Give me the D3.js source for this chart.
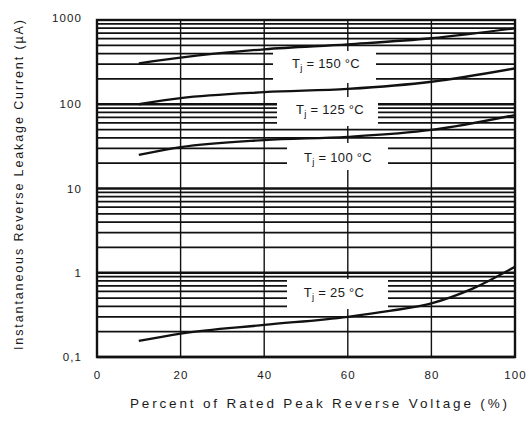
<!DOCTYPE html>
<html>
<head>
<meta charset="utf-8">
<script src="https://cdn.jsdelivr.net/npm/d3@7"></script>
<style>
  body { margin: 0; background: #fff; }
  text { font-family: "Liberation Sans", Arial, sans-serif; fill: #1a1a1a; }
</style>
</head>
<body>
<div id="chart"></div>
<script>
// values (x = % of rated voltage, y = uA)
var percent = [10, 20, 40, 60, 80, 100];
var leak150 = [306, 357, 449, 515, 607, 797];
var leak125 = [100, 118, 139, 152, 185, 267];
var leak100 = [25, 31, 37.6, 41, 49.5, 74.5];
var percent25 = [10, 20, 40, 60, 70, 80, 90, 100];
var leak25 = [0.155, 0.19, 0.24, 0.30, 0.352, 0.434, 0.653, 1.18];

var xTicks = [0, 20, 40, 60, 80, 100];
var yTicks = [0.1, 1, 10, 100, 1000];
var yTickLabels = ['0,1', '1', '10', '100', '1000'];
var curveNames = ['150', '125', '100', '25'];

(function(chart){

  chart.margin = {top: 20, right: 15, bottom: 64, left: 97};
  chart.width = 530;
  chart.height = 421;

  // build the svg and the plot group
  chart.init = function(){
    var m = chart.margin;
    chart.w = chart.width - m.left - m.right;
    chart.h = chart.height - m.top - m.bottom;
    chart.svg = d3.select('#chart').append('svg')
      .attr('width', chart.width)
      .attr('height', chart.height);
    chart.g = chart.svg.append('g')
      .attr('transform', 'translate(' + m.left + ',' + m.top + ')');
    chart.x = d3.scaleLinear().domain([0, 100]).range([0, chart.w]);
    chart.y = d3.scaleLog().domain([0.1, 1000]).range([chart.h, 0]);
  };

  // grid : every minor value of each decade + verticals every 20%
  chart.drawGrid = function(){
    var minors = [];
    yTicks.slice(0, -1).forEach(function(d){
      for (var k = 1; k < 10; k++) minors.push(d * k);
    });
    chart.g.append('g').selectAll('line').data(minors).enter().append('line')
      .attr('x1', 0).attr('x2', chart.w)
      .attr('y1', function(d){ return chart.y(d); })
      .attr('y2', function(d){ return chart.y(d); })
      .attr('stroke', '#111')
      .attr('stroke-width', function(d){ return yTicks.indexOf(d) > -1 ? 2.4 : 1.7; });

    chart.g.append('g').selectAll('line').data(xTicks.slice(1, -1)).enter().append('line')
      .attr('x1', function(d){ return chart.x(d); })
      .attr('x2', function(d){ return chart.x(d); })
      .attr('y1', 0).attr('y2', chart.h)
      .attr('stroke', '#111').attr('stroke-width', 1.4);
  };

  // white boxes behind the curve labels
  chart.drawLabels = function(){
    var boxes = [
      {name: curveNames[0], x: 273, y: 51, w: 103, h: 32, tx: 326, ty: 68},
      {name: curveNames[1], x: 277, y: 97, w: 101, h: 29, tx: 330, ty: 114},
      {name: curveNames[2], x: 287, y: 143, w: 101, h: 27, tx: 338, ty: 162},
      {name: curveNames[3], x: 287, y: 279, w: 101, h: 30, tx: 334, ty: 297}
    ];
    var lab = chart.svg.append('g').selectAll('g').data(boxes).enter().append('g');
    lab.append('rect')
      .attr('x', function(d){ return d.x; }).attr('y', function(d){ return d.y; })
      .attr('width', function(d){ return d.w; }).attr('height', function(d){ return d.h; })
      .attr('fill', '#fff');
    var t = lab.append('text')
      .attr('x', function(d){ return d.tx; }).attr('y', function(d){ return d.ty; })
      .attr('text-anchor', 'middle')
      .attr('font-size', 13)
      .attr('letter-spacing', 0.3);
    t.append('tspan').text('T');
    t.append('tspan').attr('font-size', 9.5).attr('dy', 3).text('j');
    t.append('tspan').attr('dy', -3).text(function(d){ return ' = ' + d.name + ' °C'; });
  };

  chart.drawCurves = function(){
    var series = [
      {xs: percent, ys: leak150},
      {xs: percent, ys: leak125},
      {xs: percent, ys: leak100},
      {xs: percent25, ys: leak25}
    ];
    var line = d3.line()
      .x(function(d){ return chart.x(d[0]); })
      .y(function(d){ return chart.y(d[1]); })
      .curve(d3.curveMonotoneX);
    chart.g.append('g').selectAll('path').data(series).enter().append('path')
      .attr('d', function(s){ return line(d3.zip(s.xs, s.ys)); })
      .attr('fill', 'none')
      .attr('stroke', '#111')
      .attr('stroke-width', 2.3);
  };

  chart.drawFrame = function(){
    chart.g.append('rect')
      .attr('width', chart.w).attr('height', chart.h)
      .attr('fill', 'none').attr('stroke', '#111').attr('stroke-width', 2.4);
  };

  chart.drawAxes = function(){
    var xAxis = d3.axisBottom(chart.x).tickValues(xTicks).tickSize(0).tickPadding(14);
    var gx = chart.g.append('g').attr('transform', 'translate(0,' + chart.h + ')').call(xAxis);
    var yAxis = d3.axisLeft(chart.y).tickValues(yTicks).tickSize(0).tickPadding(15)
      .tickFormat(function(d, i){ return yTickLabels[i]; });
    var gy = chart.g.append('g').call(yAxis);
    [gx, gy].forEach(function(a){
      a.select('.domain').remove();
      a.selectAll('text').attr('font-size', 11.5).attr('letter-spacing', 1.1)
        .attr('font-family', '"Liberation Sans", Arial, sans-serif').attr('fill', '#222');
    });
    gy.select('.tick:last-of-type text').attr('dy', '0.1em');

    chart.svg.append('text')
      .attr('x', 130).attr('y', 408)
      .attr('textLength', 377).attr('lengthAdjust', 'spacing')
      .attr('font-size', 13.5)
      .text('Percent of Rated Peak Reverse Voltage (%)');

    chart.svg.append('text')
      .attr('transform', 'translate(23,350) rotate(-90)')
      .attr('textLength', 330).attr('lengthAdjust', 'spacing')
      .attr('font-size', 12.5)
      .text('Instantaneous Reverse Leakage Current (µA)');
  };

  chart.init();
  chart.drawGrid();
  chart.drawCurves();
  chart.drawFrame();
  chart.drawLabels();
  chart.drawAxes();

}(window.chart = window.chart || {}));
</script>
</body>
</html>
